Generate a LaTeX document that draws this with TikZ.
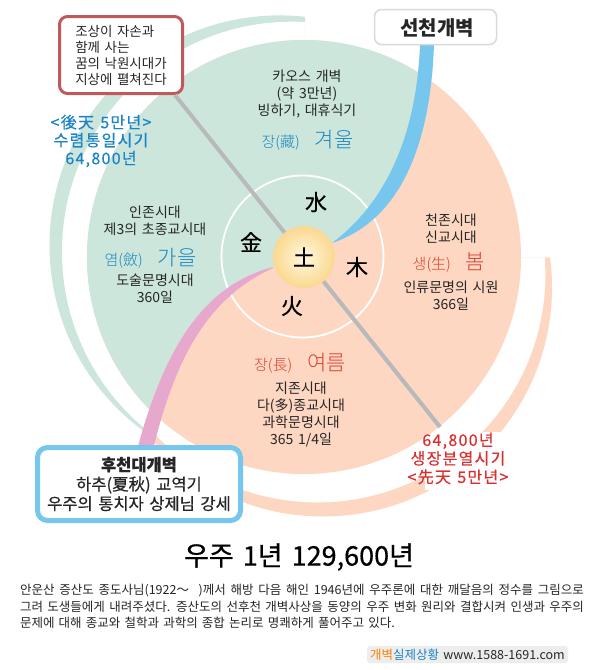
\documentclass[tikz,border=0pt]{standalone}
\usepackage{fontspec}
\setmainfont[WordSpace=1.5]{Noto Sans CJK KR}
\newfontfamily\heavykr[WordSpace=1.5, FakeBold=0.5]{Noto Sans CJK KR}
\newfontfamily\widekr[LetterSpace=8, WordSpace=1.3, FakeBold=0.4]{Noto Sans CJK KR}
\newfontfamily\thinkr[WordSpace=1.5]{Noto Sans CJK KR Light}
\usepackage{tikz}
\usetikzlibrary{shapes.geometric}
\usepackage[rgb]{xcolor}
\definecolor{wintergreen}{HTML}{CCE6DC}
\definecolor{summerpeach}{HTML}{FDD7C2}
\definecolor{strippink}{HTML}{E6A9CD}
\definecolor{stripblue}{HTML}{76C6EE}
\definecolor{noteborder}{HTML}{C1595C}
\definecolor{axisgray}{HTML}{B8B9BB}
\definecolor{textblue}{HTML}{1A84C6}
\definecolor{textred}{HTML}{D9302F}
\definecolor{seasonblue}{HTML}{1C88BE}
\definecolor{seasonred}{HTML}{DB4030}
\definecolor{earthin}{HTML}{FFF8E0}
\definecolor{earthout}{HTML}{FBD88F}
\newcommand{\sz}[2]{\fontsize{#1}{#2}\selectfont}

\begin{document}
\begin{tikzpicture}[
			x=1pt,
			y=-1pt,
			every node/.style={
					inner sep=0pt,
					text=black!85
				},
			eratext/.style={
					align=center,
					font=\sz{14}{17}
				},
			seasontext/.style={
					font=\thinkr\sz{15}{15}
				},
			elementtext/.style={
					font=\heavykr\sz{22}{24},
					text=black
				},
			epochblue/.style={
					align=center,
					text=textblue,
					font=\widekr\sz{16}{18}
				},
			epochred/.style={
					align=center,
					text=textred,
					font=\widekr\sz{16}{18.5}
				},
			axisline/.style={
					draw=axisgray,
					line width=4pt
				}
		]
		\useasboundingbox (0, 0) rectangle (600, 670);
		\fill[white] (0, 0) rectangle (600, 670);

		% thin crescents outside the disc
		\begin{scope}
			\clip (305, 0) -- (0, 0) -- (0, 450) -- (145, 450) -- (305, 200) -- cycle;
			\fill[wintergreen] (279.5, 245.4) circle[radius=230];
			\fill[white] (292, 251.7) circle[radius=230];
		\end{scope}
		\begin{scope}
			\clip (600, 257.5) -- (600, 600) -- (150, 600) -- (150, 420) -- (304, 257) -- cycle;
			\fill[summerpeach] (323, 287.5) circle[radius=229];
			\fill[white] (317.4, 274.4) circle[radius=228];
		\end{scope}
		\fill[white] (425, 432) rectangle (508, 490);

		\begin{scope}[shift={(304, 257)}]
			\fill[summerpeach] (0, 0) circle[radius=217];
			\clip (0, 0) circle[radius=217];
			\fill[wintergreen] (28, -14) .. controls (76, -50) and (112, -112) .. (116, -212)
			-- (116, -257) -- (-304, -257) -- (-304, 193)
			-- (-167, 193) .. controls (-139, 88) and (-99, 28) .. (-31, 10) -- cycle;
		\end{scope}

		\draw[white, line width=1.8pt] (302.5, 256.5) circle[radius=81];

		% the two seams
		\fill[stripblue] (332, 243) .. controls (380, 207) and (416, 145) .. (420, 45)
		-- (434, 45) .. controls (430, 155) and (395, 222) .. (332, 243) -- cycle;
		\fill[strippink] (273, 267) .. controls (205, 285) and (165, 345) .. (137, 450)
		-- (153, 450) .. controls (178, 345) and (215, 295) .. (273, 268) -- cycle;

		\node[
			circle,
			minimum size=62pt,
			inner color=earthin,
			outer color=earthout,
			font=\heavykr\sz{22}{24},
			text=black
		] (toh) at (304, 257) {土};

		\node[
			draw=noteborder,
			fill=white,
			line width=3pt,
			rounded corners=8pt,
			minimum width=123pt,
			minimum height=77pt,
			align=left,
			font=\sz{13.5}{16}
		] (note) at (121, 55) {조상이 자손과\\함께 사는\\꿈의 낙원시대가\\지상에 펼쳐진다};

		\coordinate (redend) at (440, 427);
		\draw[axisline] ([xshift=-9pt]note.south east) -- (toh);
		\draw[axisline] (toh) -- (redend);

		\node[
			draw=black!15,
			fill=white,
			line width=1.5pt,
			rounded corners=7pt,
			minimum width=122pt,
			minimum height=35pt,
			text depth=0pt,
			font=\sz{20}{22}\bfseries
		] (xianbox) at (435.5, 27) {\hspace{3pt}선천개벽};

		\node[
			draw=stripblue,
			fill=white,
			line width=5pt,
			rounded corners=10pt,
			minimum width=203pt,
			minimum height=73pt,
			align=center,
			font=\heavykr\sz{16.5}{19.5}
		] (houbox) at (139, 484) {\textbf{후천대개벽}\\하추(夏秋) 교역기\\우주의 통치자 상제님 강세};

		\node[elementtext] (shui) at (316, 202) {水};
		\node[elementtext] (jin) at (251, 242) {金};
		\node[elementtext] (mu) at (357, 267) {木};
		\node[elementtext] (huo) at (292, 306) {火};

		\node[eratext] (wintertext) at (307, 94.5) {카오스 개벽\\(약 3만년)\\빙하기, 대휴식기};
		\node[seasontext, text=seasonblue] (winter) at (307.5, 140) {장(藏)\quad{\sz{21}{21}겨울}};
		\node[eratext] (autumntext) at (155, 221) {인존시대\\제3의 초종교시대};
		\node[seasontext, text=seasonblue] (autumn) at (150.5, 258) {염(斂)\quad{\sz{21}{21}가을}};
		\node[eratext] (autumnday) at (155, 288.5) {도술문명시대\\360일};
		\node[eratext] (springtext) at (451, 229) {천존시대\\신교시대};
		\node[seasontext, text=seasonred] (spring) at (449, 263) {생(生)\quad{\sz{21}{21}봄}};
		\node[eratext] (springday) at (451, 296) {인류문명의 시원\\366일};
		\node[seasontext, text=seasonred] (summer) at (300, 363) {장(長)\quad{\sz{21}{21}여름}};
		\node[eratext] (summertext) at (301, 414) {지존시대\\다(多)종교시대\\과학문명시대\\365 1/4일};

		\node[epochblue] (backepoch) at (101, 141) {<後天 5만년>\\수렴통일시기\\64,800년};
		\node[epochred] (frontepoch) at (458, 458.5) {64,800년\\생장분열시기\\<先天 5만년>};

		\node[font=\heavykr\sz{27}{29}, text=black] (title) at (299, 557) {우주 1년 129,600년};

		\node[
			text width=564pt,
			align=justify,
			font=\sz{12.5}{16.5}
		] (story) at (302, 606.5) {안운산 증산도 종도사님(1922～\ \ )께서 해방 다음 해인 1946년에 우주론에 대한 깨달음의 정수를 그림으로\linebreak
			그려 도생들에게 내려주셨다. 증산도의 선후천 개벽사상을 동양의 우주 변화 원리와 결합시켜 인생과 우주의\linebreak
			문제에 대해 종교와 철학과 과학의 종합 논리로 명쾌하게 풀어주고 있다.};

		\node[
			fill=black!7,
			rounded corners=3pt,
			minimum width=201pt,
			minimum height=17pt,
			font=\sz{12.5}{14}
		] (credit) at (467.5, 654.5) {\textcolor{orange}{개벽}\textcolor{textblue}{실제상황} www.1588-1691.com};
	\end{tikzpicture}
\end{document}
